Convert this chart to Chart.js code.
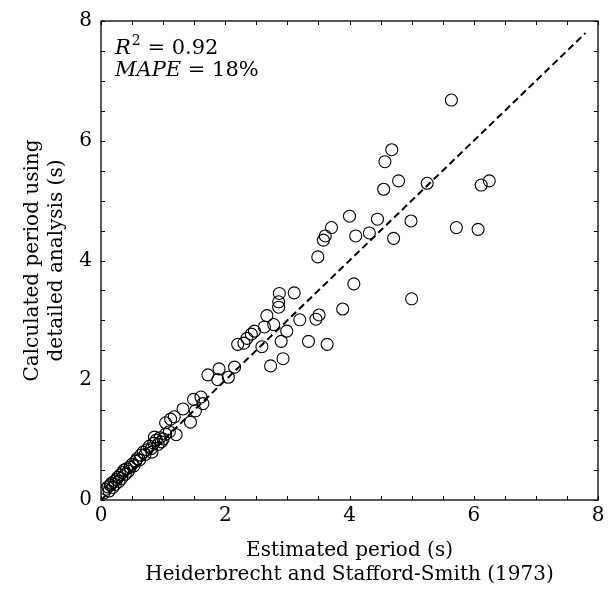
<!DOCTYPE html>
<html>
<head>
<meta charset="utf-8">
<script src="https://cdn.jsdelivr.net/npm/chart.js@4/dist/chart.umd.min.js"></script>
<style>
  html, body { margin: 0; padding: 0; background: #fff; }
  #wrap { width: 611px; height: 594px; }
</style>
</head>
<body>
<div id="wrap"><canvas id="myChart"></canvas></div>
<script>
// estimated period (s)
const estimated = [
  5.64, 4.68, 4.57, 4.79, 4.55, 5.25, 6.12, 6.25, 4.00, 4.45,
  3.71, 3.61, 3.58, 4.10, 4.32, 4.99, 4.71, 5.72, 6.07, 3.49,
  4.07, 5.00, 3.89, 3.51, 3.46, 3.20, 3.34, 3.64,
  2.87, 2.86, 2.86, 3.11, 2.67, 2.78, 2.63, 2.47, 2.42, 2.35,
  2.30, 2.20, 2.99, 2.90, 2.59, 2.93, 2.73, 2.15,
  1.72, 1.90, 1.88, 2.05, 1.49, 1.61, 1.64, 1.52, 1.32, 1.44,
  1.18, 1.12, 1.04, 1.21, 0.97, 0.86, 0.82,
  0.05, 0.08, 0.11, 0.13, 0.15, 0.17, 0.19, 0.21, 0.23, 0.25,
  0.27, 0.29, 0.31, 0.33, 0.35, 0.37, 0.39, 0.41, 0.44, 0.47,
  0.50, 0.53, 0.56, 0.58, 0.62, 0.64, 0.68, 0.71, 0.74, 0.78,
  0.81, 0.85, 0.89, 0.92, 0.95, 1.00, 1.04, 1.10
];
// calculated period using detailed analysis (s)
const calculated = [
  6.68, 5.85, 5.65, 5.33, 5.19, 5.29, 5.26, 5.33, 4.74, 4.69,
  4.55, 4.41, 4.34, 4.41, 4.46, 4.66, 4.37, 4.55, 4.52, 4.06,
  3.61, 3.36, 3.19, 3.09, 3.02, 3.01, 2.65, 2.60,
  3.45, 3.31, 3.22, 3.46, 3.08, 2.93, 2.89, 2.82, 2.77, 2.70,
  2.62, 2.60, 2.82, 2.65, 2.56, 2.36, 2.24, 2.22,
  2.09, 2.19, 2.01, 2.05, 1.68, 1.72, 1.61, 1.49, 1.52, 1.30,
  1.39, 1.35, 1.29, 1.09, 0.97, 1.05, 0.80,
  0.12, 0.18, 0.22, 0.15, 0.25, 0.28, 0.21, 0.31, 0.26, 0.34,
  0.38, 0.31, 0.42, 0.36, 0.46, 0.50, 0.43, 0.52, 0.48, 0.55,
  0.60, 0.57, 0.65, 0.69, 0.67, 0.75, 0.80, 0.76, 0.84, 0.90,
  0.86, 0.95, 1.00, 0.93, 1.04, 1.02, 1.10, 1.14
];
const lineX = [0, 7.8];
const lineY = [0, 7.8];
const tickLabels = [0, 2, 4, 6, 8];

const serif = "'DejaVu Serif', 'Liberation Serif', serif";

const points = estimated.map((v, i) => ({x: v, y: calculated[i]}));
const diag = lineX.map((v, i) => ({x: v, y: lineY[i]}));

// ticks pointing inward on all four sides + frame
const frameTicks = {
  id: 'frameTicks',
  afterDraw(chart) {
    const c = chart.ctx;
    const a = chart.chartArea;
    const xs = chart.scales.x, ys = chart.scales.y;
    c.save();
    c.strokeStyle = '#000';
    c.lineWidth = 1;
    xs.ticks.forEach(t => {
      const px = Math.round(xs.getPixelForValue(t.value)) + 0.5;
      c.beginPath();
      c.moveTo(px, a.bottom); c.lineTo(px, a.bottom - 4);
      c.moveTo(px, a.top); c.lineTo(px, a.top + 4);
      c.stroke();
    });
    ys.ticks.forEach(t => {
      const py = Math.round(ys.getPixelForValue(t.value)) + 0.5;
      c.beginPath();
      c.moveTo(a.left, py); c.lineTo(a.left + 4, py);
      c.moveTo(a.right, py); c.lineTo(a.right - 4, py);
      c.stroke();
    });
    c.lineWidth = 1.3;
    c.strokeRect(a.left, a.top, a.right - a.left, a.bottom - a.top);

    // R^2 and MAPE text
    c.fillStyle = '#000';
    c.textBaseline = 'alphabetic';
    let x = a.left + 14;
    let y = a.top + 33;
    c.font = 'italic 21px ' + serif;
    c.fillText('R', x, y);
    x += c.measureText('R').width + 1;
    c.font = '14px ' + serif;
    c.fillText('2', x, y - 9);
    x += c.measureText('2').width;
    c.font = '21px ' + serif;
    c.fillText(' = 0.92', x, y);

    x = a.left + 14;
    y = a.top + 55;
    c.font = 'italic 21px ' + serif;
    c.fillText('MAPE', x, y);
    x += c.measureText('MAPE').width;
    c.font = '21px ' + serif;
    c.fillText(' = 18%', x, y);
    c.restore();
  }
};

const ctx = document.getElementById('myChart').getContext('2d');
let myChart = new Chart(ctx, {
  type: 'scatter',
  data: {
    datasets: [
      {
        label: 'fit',
        type: 'line',
        data: diag,
        borderColor: '#000',
        borderWidth: 2,
        borderDash: [7, 4],
        pointRadius: 0,
        fill: false
      },
      {
        label: 'buildings',
        data: points,
        pointStyle: 'circle',
        pointRadius: 6,
        pointHoverRadius: 6,
        borderColor: '#000',
        borderWidth: 1.1,
        backgroundColor: 'rgba(0,0,0,0)'
      }
    ]
  },
  options: {
    responsive: true,
    maintainAspectRatio: false,
    animation: false,
    layout: { padding: { top: 17, right: 13, left: 0, bottom: 0 } },
    plugins: {
      legend: { display: false },
      tooltip: { enabled: false }
    },
    scales: {
      x: {
        type: 'linear',
        min: 0, max: 8,
        afterFit: s => { s.height = 94; },
        grid: { display: false, drawTicks: false },
        border: { display: false },
        ticks: {
          stepSize: 0.5,
          autoSkip: false,
          maxRotation: 0,
          padding: 4,
          color: '#000',
          font: { family: serif, size: 20 },
          callback: v => tickLabels.includes(v) ? String(v) : ''
        },
        title: {
          display: true,
          text: ['Estimated period (s)', 'Heiderbrecht and Stafford-Smith (1973)'],
          color: '#000',
          font: { family: serif, size: 20, lineHeight: 1.2 },
          padding: { top: 0, bottom: 7 }
        }
      },
      y: {
        type: 'linear',
        min: 0, max: 8,
        afterFit: s => { s.width = 101; },
        grid: { display: false, drawTicks: false },
        border: { display: false },
        ticks: {
          stepSize: 0.5,
          autoSkip: false,
          padding: 9,
          color: '#000',
          font: { family: serif, size: 20 },
          callback: v => tickLabels.includes(v) ? String(v) : ''
        },
        title: {
          display: true,
          text: ['Calculated period using', 'detailed analysis (s)'],
          color: '#000',
          font: { family: serif, size: 20, lineHeight: 1.2 },
          padding: { top: 21, bottom: 0 }
        }
      }
    }
  },
  plugins: [frameTicks]
});
</script>
</body>
</html>
